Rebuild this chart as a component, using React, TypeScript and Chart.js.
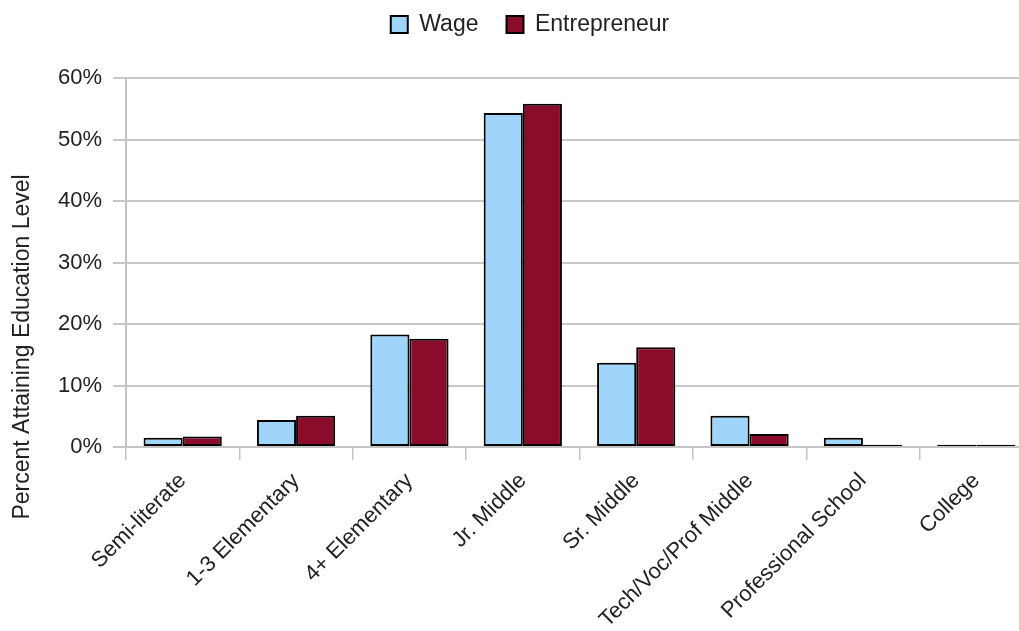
import React, { useEffect, useRef } from "react";
import { Chart, registerables } from "chart.js";

Chart.register(...registerables);

const categories = [
  "Semi-literate",
  "1-3 Elementary",
  "4+ Elementary",
  "Jr. Middle",
  "Sr. Middle",
  "Tech/Voc/Prof Middle",
  "Professional School",
  "College",
];
const wageValues = [1.5, 4.4, 18.3, 54.3, 13.7, 5.1, 1.5, 0.35];
const entrepreneurValues = [1.7, 5.1, 17.6, 55.8, 16.2, 2.1, 0.35, 0.35];
const yTicks = [0, 10, 20, 30, 40, 50, 60];
const yTitle = "Percent Attaining Education Level";

const FONT = "'Liberation Sans', Arial, Helvetica, sans-serif";

const yTitlePlugin = {
  id: "yTitle",
  afterDraw(chart: any) {
    const ctx = chart.ctx;
    ctx.save();
    ctx.translate(23, 347);
    ctx.rotate(-Math.PI / 2);
    ctx.font = `23px ${FONT}`;
    ctx.fillStyle = "#222";
    ctx.textAlign = "center";
    ctx.textBaseline = "middle";
    ctx.fillText(yTitle, 0, 0);
    ctx.restore();
  },
};

const legendSpacePlugin = {
  id: "legendSpace",
  beforeLayout(chart: any) {
    const lg = chart.legend;
    if (lg && !lg.__patched) {
      const orig = lg.fit;
      lg.fit = function (this: any) {
        orig.call(this);
        this.height += 32;
      };
      lg.__patched = true;
    }
  },
};

export default function App() {
  const ref = useRef<HTMLCanvasElement | null>(null);
  useEffect(() => {
    if (!ref.current) return;
    const chart = new Chart(ref.current, {
      type: "bar",
      data: {
        labels: categories,
        datasets: [
          {
            label: "Wage",
            data: wageValues,
            backgroundColor: "#9fd5fb",
            borderColor: "#000",
            borderWidth: 2,
            borderSkipped: false,
            categoryPercentage: 0.69,
            barPercentage: 1,
          },
          {
            label: "Entrepreneur",
            data: entrepreneurValues,
            backgroundColor: "#8b0b2b",
            borderColor: "#000",
            borderWidth: 2,
            borderSkipped: false,
            categoryPercentage: 0.69,
            barPercentage: 1,
          },
        ],
      },
      options: {
        responsive: false,
        animation: false,
        layout: { padding: { top: -15, right: 27, left: 27, bottom: 0 } },
        plugins: {
          legend: {
            position: "top",
            labels: {
              boxWidth: 17,
              boxHeight: 17,
              padding: 28,
              color: "#222",
              font: { family: FONT, size: 23 },
            },
          },
          tooltip: { enabled: false },
        },
        scales: {
          x: {
            grid: {
              display: true,
              drawOnChartArea: false,
              drawTicks: true,
              tickLength: 13,
              color: "#c4c4c4",
              lineWidth: 1.5,
              offset: true,
            },
            border: { display: true, color: "#c4c4c4", width: 2 },
            ticks: {
              autoSkip: false,
              maxRotation: 45,
              minRotation: 45,
              color: "#222",
              padding: 8,
              font: { family: FONT, size: 22 },
            },
            afterFit(scale: any) {
              scale.height = 184;
            },
          },
          y: {
            min: 0,
            max: 60,
            afterBuildTicks(scale: any) {
              scale.ticks = yTicks.map((v) => ({ value: v }));
            },
            grid: {
              color: "#c8c8c8",
              lineWidth: 2,
              drawTicks: true,
              tickLength: 13,
            },
            border: { display: true, color: "#c4c4c4", width: 2 },
            ticks: {
              color: "#222",
              padding: 11,
              font: { family: FONT, size: 22 },
              callback: (v: any) => `${v}%`,
            },
            afterFit(scale: any) {
              scale.width = 99;
            },
          },
        },
      },
      plugins: [legendSpacePlugin, yTitlePlugin],
    });
    return () => chart.destroy();
  }, []);

  return (
    <div
      style={{
        position: "fixed",
        left: 0,
        top: 0,
        width: 1019,
        height: 631,
        overflow: "hidden",
        background: "#fff",
      }}
    >
      <canvas ref={ref} width={1060} height={631} style={{ display: "block" }} />
    </div>
  );
}
